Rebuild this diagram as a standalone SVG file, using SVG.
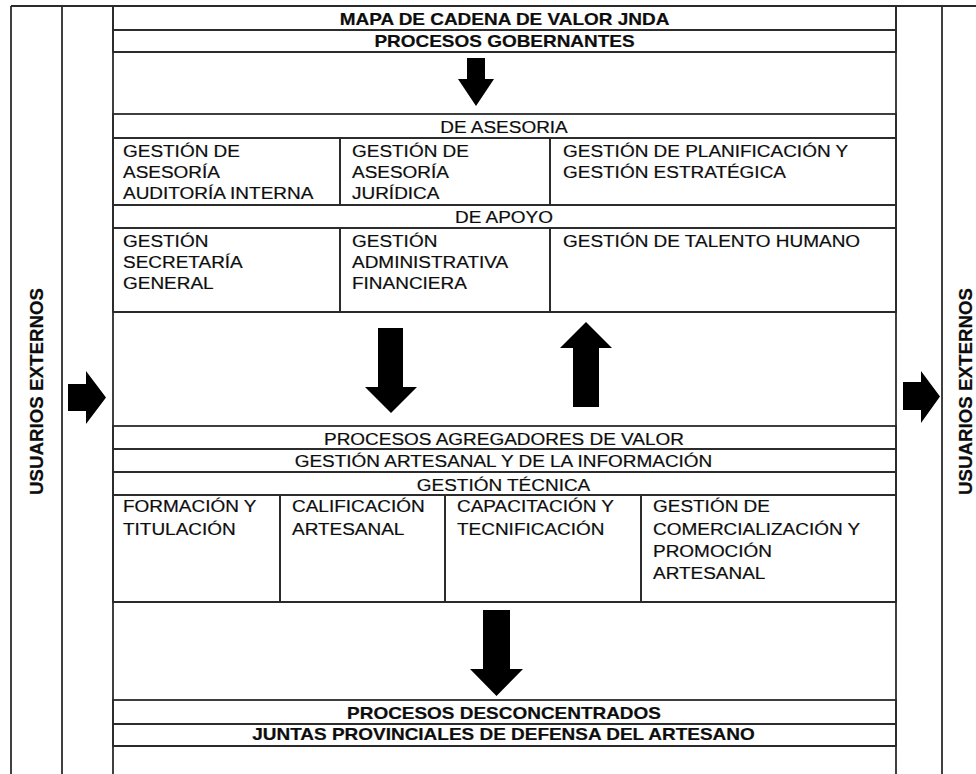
<svg xmlns="http://www.w3.org/2000/svg" width="976" height="774" viewBox="0 0 976 774">
<style>
.ln{fill:none;stroke:#2b2b2b;stroke-width:1.8}
.t{font-family:"Liberation Sans",Arial,sans-serif;font-size:16.5px;fill:#0d0d0d;stroke:#0d0d0d;stroke-width:0.2}
.b{font-weight:bold}
.c{text-anchor:middle}
.arrow{fill:#000;stroke:none}
</style>
<rect width="976" height="774" fill="#fff"/>
<g id="frame">
<line class="ln" x1="11" y1="6" x2="976" y2="6"/>
<line class="ln" x1="11" y1="6" x2="11" y2="774"/>
<line class="ln" x1="62" y1="6" x2="62" y2="774"/>
<line class="ln" x1="113" y1="6" x2="113" y2="774"/>
<line class="ln" x1="896" y1="6" x2="896" y2="774"/>
<line class="ln" x1="942" y1="6" x2="942" y2="774"/>
<line class="ln" x1="113" y1="746" x2="896" y2="746"/>
<line class="ln" x1="113" y1="52" x2="896" y2="52"/>
<line class="ln" x1="113" y1="312" x2="896" y2="312"/>
<line class="ln" x1="113" y1="602" x2="896" y2="602"/>
</g>
<g id="usuarios-izq">
<text class="t b c" transform="translate(43,391.5) rotate(-90) scale(1,1.1)" textLength="207" lengthAdjust="spacingAndGlyphs">USUARIOS EXTERNOS</text>
</g>
<g id="usuarios-der">
<text class="t b c" transform="translate(972,391.5) rotate(-90) scale(1,1.1)" textLength="207" lengthAdjust="spacingAndGlyphs">USUARIOS EXTERNOS</text>
</g>
<g id="titulo">
<rect class="ln" x="113" y="6" width="783" height="24"/>
<text class="t b c" transform="translate(504.5,24.5) scale(1.15,1)">MAPA DE CADENA DE VALOR JNDA</text>
</g>
<g id="gobernantes">
<rect class="ln" x="113" y="30" width="783" height="22"/>
<text class="t b c" transform="translate(504.5,47) scale(1.15,1)">PROCESOS GOBERNANTES</text>
</g>
<g id="de-asesoria">
<rect class="ln" x="113" y="114" width="783" height="24"/>
<text class="t c" transform="translate(504,133) scale(1.15,1)">DE ASESORIA</text>
</g>
<g id="auditoria">
<rect class="ln" x="113" y="138" width="227" height="67"/>
<text class="t" transform="translate(123,0) scale(1.15,1)"><tspan x="0" y="157">GESTIÓN DE</tspan><tspan x="0" y="178">ASESORÍA</tspan><tspan x="0" y="199">AUDITORÍA INTERNA</tspan></text>
</g>
<g id="juridica">
<rect class="ln" x="340" y="138" width="210" height="67"/>
<text class="t" transform="translate(352,0) scale(1.15,1)"><tspan x="0" y="157">GESTIÓN DE</tspan><tspan x="0" y="178">ASESORÍA</tspan><tspan x="0" y="199">JURÍDICA</tspan></text>
</g>
<g id="planificacion">
<rect class="ln" x="550" y="138" width="346" height="67"/>
<text class="t" transform="translate(563,0) scale(1.15,1)"><tspan x="0" y="157">GESTIÓN DE PLANIFICACIÓN Y</tspan><tspan x="0" y="178">GESTIÓN ESTRATÉGICA</tspan></text>
</g>
<g id="de-apoyo">
<rect class="ln" x="113" y="205" width="783" height="23"/>
<text class="t c" transform="translate(504,222.5) scale(1.15,1)">DE APOYO</text>
</g>
<g id="secretaria">
<rect class="ln" x="113" y="228" width="227" height="84"/>
<text class="t" transform="translate(123,0) scale(1.15,1)"><tspan x="0" y="247">GESTIÓN</tspan><tspan x="0" y="268">SECRETARÍA</tspan><tspan x="0" y="289">GENERAL</tspan></text>
</g>
<g id="administrativa">
<rect class="ln" x="340" y="228" width="210" height="84"/>
<text class="t" transform="translate(352,0) scale(1.15,1)"><tspan x="0" y="247">GESTIÓN</tspan><tspan x="0" y="268">ADMINISTRATIVA</tspan><tspan x="0" y="289">FINANCIERA</tspan></text>
</g>
<g id="talento">
<rect class="ln" x="550" y="228" width="346" height="84"/>
<text class="t" transform="translate(563,247) scale(1.15,1)">GESTIÓN DE TALENTO HUMANO</text>
</g>
<g id="agregadores">
<rect class="ln" x="113" y="426" width="783" height="23"/>
<text class="t c" transform="translate(504,444.5) scale(1.15,1)">PROCESOS AGREGADORES DE VALOR</text>
</g>
<g id="artesanal-informacion">
<rect class="ln" x="113" y="449" width="783" height="23"/>
<text class="t c" transform="translate(503.5,466.5) scale(1.15,1)">GESTIÓN ARTESANAL Y DE LA INFORMACIÓN</text>
</g>
<g id="tecnica">
<rect class="ln" x="113" y="472" width="783" height="23"/>
<text class="t c" transform="translate(503.5,490.5) scale(1.15,1)">GESTIÓN TÉCNICA</text>
</g>
<g id="formacion">
<rect class="ln" x="113" y="495" width="167" height="107"/>
<text class="t" transform="translate(123,0) scale(1.15,1)"><tspan x="0" y="512.5">FORMACIÓN Y</tspan><tspan x="0" y="535">TITULACIÓN</tspan></text>
</g>
<g id="calificacion">
<rect class="ln" x="280" y="495" width="165" height="107"/>
<text class="t" transform="translate(292,0) scale(1.15,1)"><tspan x="0" y="512.5">CALIFICACIÓN</tspan><tspan x="0" y="535">ARTESANAL</tspan></text>
</g>
<g id="capacitacion">
<rect class="ln" x="445" y="495" width="196" height="107"/>
<text class="t" transform="translate(457,0) scale(1.15,1)"><tspan x="0" y="512.5">CAPACITACIÓN Y</tspan><tspan x="0" y="535">TECNIFICACIÓN</tspan></text>
</g>
<g id="comercializacion">
<rect class="ln" x="641" y="495" width="255" height="107"/>
<text class="t" transform="translate(653,0) scale(1.15,1)"><tspan x="0" y="512.5">GESTIÓN DE</tspan><tspan x="0" y="535">COMERCIALIZACIÓN Y</tspan><tspan x="0" y="557">PROMOCIÓN</tspan><tspan x="0" y="579">ARTESANAL</tspan></text>
</g>
<g id="desconcentrados">
<rect class="ln" x="113" y="700" width="783" height="24"/>
<text class="t b c" transform="translate(504,718.5) scale(1.15,1)">PROCESOS DESCONCENTRADOS</text>
</g>
<g id="juntas">
<rect class="ln" x="113" y="724" width="783" height="22"/>
<text class="t b c" transform="translate(503.5,740) scale(1.15,1)">JUNTAS PROVINCIALES DE DEFENSA DEL ARTESANO</text>
</g>
<g id="connectors">
<polygon class="arrow" points="467,58 485,58 485,79 494,79 476,106 458,79 467,79"/>
<polygon class="arrow" points="378,328 403,328 403,387 417,387 391,413 365,387 378,387"/>
<polygon class="arrow" points="586,322 612,348 599,348 599,407 573,407 573,348 560,348"/>
<polygon class="arrow" points="483,610 510,610 510,669 523,669 496.5,696 470,669 483,669"/>
<polygon class="arrow" points="68,384 86,384 86,371 106,397.5 86,424 86,411 68,411"/>
<polygon class="arrow" points="903,382 921,382 921,371 940,396.5 921,423 921,410 903,410"/>
</g>
</svg>
